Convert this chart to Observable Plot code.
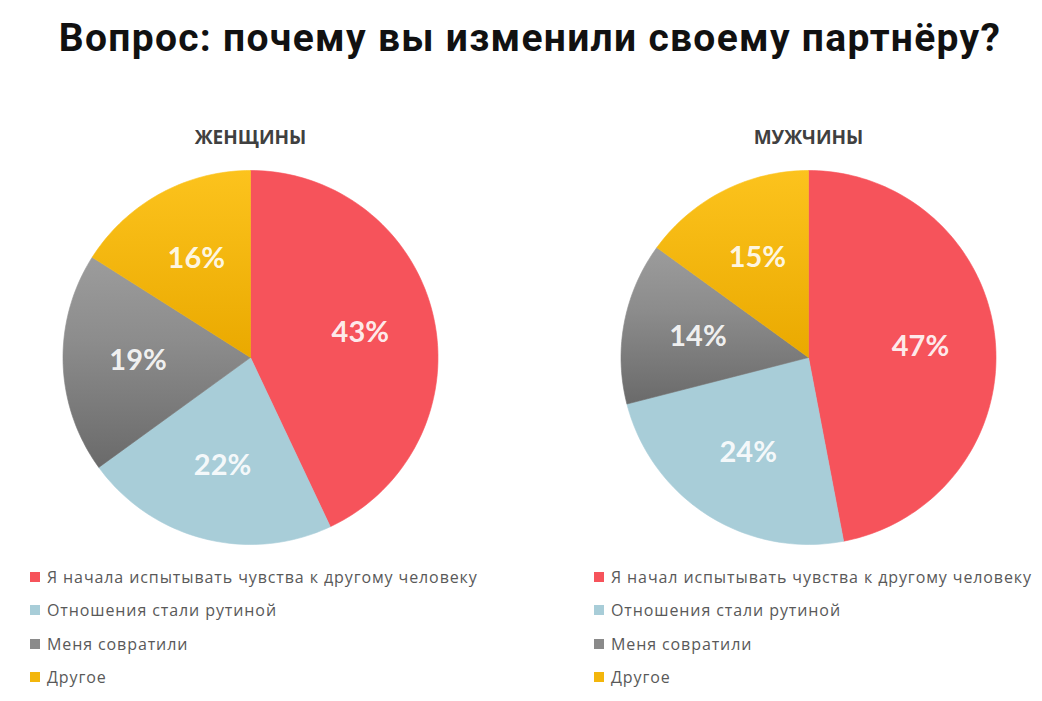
<!DOCTYPE html>
<html>
<head>
<meta charset="utf-8">
<script src="https://cdn.jsdelivr.net/npm/d3@7"></script>
<script src="https://cdn.jsdelivr.net/npm/@observablehq/plot@0.6"></script>
<style>
  html, body { margin: 0; padding: 0; background: #ffffff; }
  #page { position: relative; width: 1042px; height: 701px; overflow: hidden; }
  #title { position: absolute; left: 18px; top: 15px; width: 1024px; text-align: center;
           font-family: Roboto, sans-serif; font-weight: 700; font-size: 39px; color: #111;
           letter-spacing: 1.3px; white-space: nowrap; }
  #chart { position: absolute; left: 0; top: 90px; }
  .legend { position: absolute; top: 560px; font-family: "Open Sans", sans-serif; font-size: 16px; color: #595959; letter-spacing: 0.9px; }
  .legend .row { height: 33.5px; display: flex; align-items: center; white-space: nowrap; }
  .legend .sw { width: 10px; height: 10px; margin-right: 7px; flex: none; }
</style>
</head>
<body>
<svg width="0" height="0" style="position:absolute">
  <defs>
    <linearGradient id="gradGray" x1="0" y1="0" x2="0" y2="1">
      <stop offset="0" stop-color="#9c9c9c"/>
      <stop offset="0.4" stop-color="#8c8c8c"/>
      <stop offset="1" stop-color="#6a6a6a"/>
    </linearGradient>
    <linearGradient id="gradYellow" x1="0" y1="0" x2="0" y2="1">
      <stop offset="0" stop-color="#fcc31d"/>
      <stop offset="1" stop-color="#eaa900"/>
    </linearGradient>
  </defs>
</svg>
<div id="page">
  <div id="title"></div>
  <div id="chart"></div>
  <div class="legend" id="legendW" style="left:30px"></div>
  <div class="legend" id="legendM" style="left:594px"></div>
</div>
<script>
const titleText = "Вопрос: почему вы изменили своему партнёру?";
const groups = ["ЖЕНЩИНЫ", "МУЖЧИНЫ"];
const categories = ["feelings", "routine", "seduced", "other"];
const womenValues = [43, 22, 19, 16];
const menValues = [47, 24, 14, 15];
const womenLegend = ["Я начала испытывать чувства к другому человеку", "Отношения стали рутиной", "Меня совратили", "Другое"];
const menLegend = ["Я начал испытывать чувства к другому человеку", "Отношения стали рутиной", "Меня совратили", "Другое"];
const sliceFills = ["#f6535b", "#a8cdd8", "url(#gradGray)", "url(#gradYellow)"];
const swatchColors = ["#f6535b", "#a8cdd8", "#8a8a8a", "#f3b60c"];

document.getElementById("title").textContent = titleText;

function buildSlices(group, values) {
  const arcs = d3.pie().sort(null)(values);
  const pts = [];
  const labels = [];
  arcs.forEach((a, i) => {
    const n = Math.max(2, Math.ceil((a.endAngle - a.startAngle) / (2 * Math.PI) * 240));
    pts.push({group, cat: categories[i], x: 0, y: 0});
    for (let k = 0; k <= n; k++) {
      const t = a.startAngle + (a.endAngle - a.startAngle) * k / n;
      pts.push({group, cat: categories[i], x: Math.sin(t), y: Math.cos(t)});
    }
    pts.push({group, cat: categories[i], x: 0, y: 0});
    const mid = (a.startAngle + a.endAngle) / 2;
    labels.push({group, cat: categories[i], x: 0.6 * Math.sin(mid), y: 0.6 * Math.cos(mid), text: values[i] + "%"});
  });
  return {pts, labels};
}

const w = buildSlices(groups[0], womenValues);
const m = buildSlices(groups[1], menValues);
const slicePts = w.pts.concat(m.pts);
const labelRows = w.labels.concat(m.labels);

const chart = Plot.plot({
  width: 1042,
  height: 460,
  marginLeft: 62.5,
  marginRight: 46.5,
  marginTop: 80,
  marginBottom: 6,
  style: {overflow: "visible", background: "transparent"},
  x: {domain: [-1, 1], axis: null},
  y: {domain: [-1, 1], axis: null},
  fx: {domain: groups, paddingInner: 0.328, paddingOuter: 0, round: false, axis: null},
  color: {type: "ordinal", domain: categories, range: sliceFills},
  marks: [
    Plot.line(slicePts, {x: "x", y: "y", z: "cat", fx: "group", fill: "cat", stroke: "cat", strokeWidth: 0.6, curve: "linear"}),
    Plot.text(labelRows, {x: "x", y: "y", fx: "group", text: "text", fill: "white", fillOpacity: 0.9,
      fontSize: 29, fontWeight: 700, fontFamily: "Lato"}),
    Plot.text(groups, {fx: d => d, text: d => d, frameAnchor: "top", lineAnchor: "middle", dy: -33, fontSize: 19,
      fontWeight: 700, fill: "#404040", fontFamily: "Open Sans"})
  ]
});
document.getElementById("chart").appendChild(chart);

function legend(el, labels) {
  labels.forEach((lab, i) => {
    const row = document.createElement("div");
    row.className = "row";
    const sw = document.createElement("div");
    sw.className = "sw";
    sw.style.background = swatchColors[i];
    const tx = document.createElement("span");
    tx.textContent = lab;
    row.appendChild(sw);
    row.appendChild(tx);
    el.appendChild(row);
  });
}
legend(document.getElementById("legendW"), womenLegend);
legend(document.getElementById("legendM"), menLegend);
</script>
</body>
</html>
